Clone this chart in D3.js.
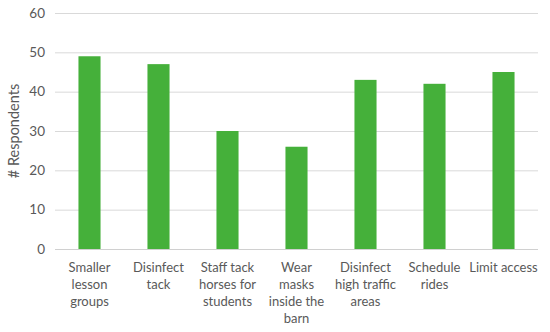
<!DOCTYPE html>
<html>
<head>
<meta charset="utf-8">
<script src="https://cdn.jsdelivr.net/npm/d3@7"></script>
<style>
  body { margin: 0; background: #fff; }
  text { font-family: Lato, "Open Sans", sans-serif; fill: #595959; }
</style>
</head>
<body>
<script>
"use strict";

// category labels, already split into lines as in the original
const categories = [
    ["Smaller", "lesson", "groups"],
    ["Disinfect", "tack"],
    ["Staff tack", "horses for", "students"],
    ["Wear", "masks", "inside the", "barn"],
    ["Disinfect", "high traffic", "areas"],
    ["Schedule", "rides"],
    ["Limit access"]
];
const respondents = [49, 47, 30, 26, 43, 42, 45];
const yTicks = [0, 10, 20, 30, 40, 50, 60];

const width = 550, height = 332;
const margin = { top: 13, right: 12, bottom: 83, left: 55 };

const svg = d3.select("body").append("svg")
    .attr("width", width)
    .attr("height", height);

const x = d3.scaleBand()
    .domain(d3.range(categories.length))
    .range([margin.left, width - margin.right])
    .paddingInner(0.68)
    .paddingOuter(0.34);

const y = d3.scaleLinear()
    .domain([0, 60])
    .range([height - margin.bottom, margin.top]);

// gridlines
svg.append("g")
   .selectAll("line")
   .data(yTicks)
   .join("line")
   .attr("x1", margin.left)
   .attr("x2", width - margin.right)
   .attr("y1", d => y(d) + 0.5)
   .attr("y2", d => y(d) + 0.5)
   .attr("stroke", d => d === 0 ? "#d0d0d0" : "#d9d9d9")
   .attr("stroke-width", 1);

// y tick labels
svg.append("g")
   .selectAll("text")
   .data(yTicks)
   .join("text")
   .attr("x", margin.left - 10)
   .attr("y", d => y(d))
   .attr("dy", "0.35em")
   .attr("text-anchor", "end")
   .style("font-size", "13.5px")
   .text(d => d);

// bars
svg.append("g")
   .selectAll("rect")
   .data(respondents)
   .join("rect")
   .attr("x", (d, i) => x(i))
   .attr("width", x.bandwidth())
   .attr("y", d => y(d))
   .attr("height", d => y(0) - y(d))
   .attr("fill", "#45b03a");

// category labels
const labels = svg.append("g")
   .selectAll("text")
   .data(categories)
   .join("text")
   .attr("text-anchor", "middle")
   .style("font-size", "13px")
   .attr("transform", (d, i) => `translate(${x(i) + x.bandwidth() / 2},${y(0) + 23})`);

labels.selectAll("tspan")
   .data(d => d)
   .join("tspan")
   .attr("x", 0)
   .attr("y", (d, i) => i * 17)
   .text(d => d);

// y axis title
svg.append("text")
   .attr("transform", `translate(19,${(y(0) + y(60)) / 2}) rotate(-90)`)
   .attr("text-anchor", "middle")
   .style("font-size", "14.5px")
   .text("# Respondents");
</script>
</body>
</html>
